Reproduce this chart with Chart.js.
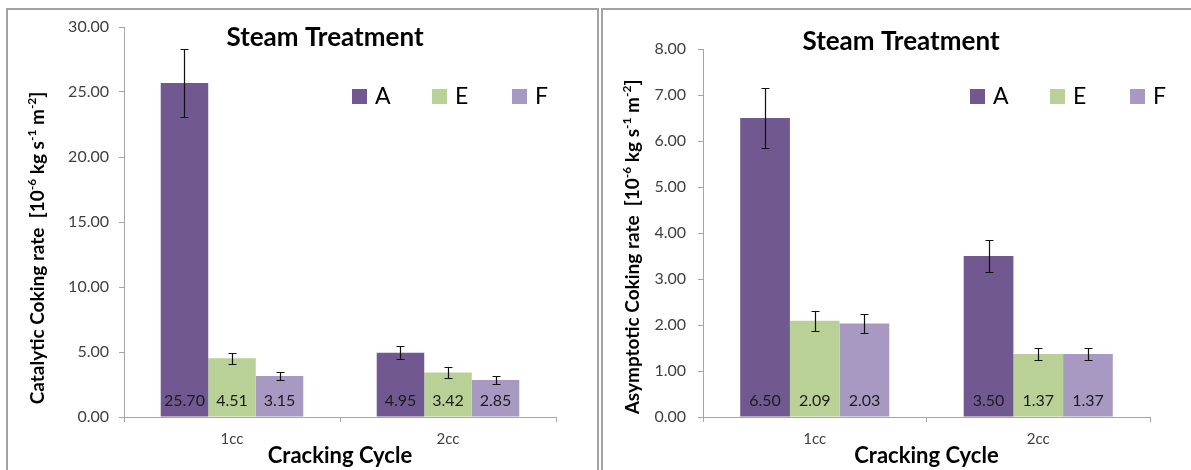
<!DOCTYPE html>
<html>
<head>
<meta charset="utf-8">
<title>Steam Treatment – coking rates</title>
<script src="https://cdn.jsdelivr.net/npm/chart.js@4.4.1/dist/chart.umd.min.js"></script>
<style>
  html, body { margin: 0; padding: 0; background: #fff; }
  body { width: 1191px; height: 470px; position: relative; overflow: hidden; }
  .panel { position: absolute; top: 0; height: 470px; }
  .frame { position: absolute; border: 2px solid #a2a2a2; pointer-events: none; box-sizing: border-box; }
</style>
</head>
<body>
<div class="panel" style="left:0;width:600px;"><canvas id="catalytic" width="600" height="470"></canvas></div>
<div class="panel" style="left:600px;width:591px;"><canvas id="asymptotic" width="591" height="470"></canvas></div>
<div class="frame" style="left:6px;top:8px;width:593px;height:500px;"></div>
<div class="frame" style="left:601px;top:8px;width:600px;height:500px;"></div>
<script>
// ---- data ----
const categories = ['1cc', '2cc'];
const seriesNames = ['A', 'E', 'F'];
const seriesColors = ['#715890', '#b9d196', '#a899c2'];

// Catalytic coking rate [10^-6 kg s^-1 m^-2]
const catalyticA = [25.70, 4.95];
const catalyticE = [4.51, 3.42];
const catalyticF = [3.15, 2.85];
const catalyticErrA = [2.6, 0.5];
const catalyticErrE = [0.45, 0.4];
const catalyticErrF = [0.3, 0.3];
const catalyticTicks = [0, 5, 10, 15, 20, 25, 30];

// Asymptotic coking rate [10^-6 kg s^-1 m^-2]
const asymptoticA = [6.50, 3.50];
const asymptoticE = [2.09, 1.37];
const asymptoticF = [2.03, 1.37];
const asymptoticErrA = [0.65, 0.35];
const asymptoticErrE = [0.21, 0.13];
const asymptoticErrF = [0.20, 0.13];
const asymptoticTicks = [0, 1, 2, 3, 4, 5, 6, 7, 8];

Chart.defaults.font.family = 'Lato, "Open Sans", sans-serif';
Chart.defaults.color = '#404040';

// Error bars: drawn from each bar's x and the value ± error on the y scale
const errorBarPlugin = {
  id: 'errorBars',
  afterDatasetsDraw(chart) {
    const ctx = chart.ctx;
    const y = chart.scales.y;
    ctx.save();
    ctx.strokeStyle = '#111';
    ctx.lineWidth = 1.2;
    chart.data.datasets.forEach((ds, i) => {
      const meta = chart.getDatasetMeta(i);
      meta.data.forEach((bar, j) => {
        const v = ds.data[j], e = ds.errors[j];
        const yt = Math.round(y.getPixelForValue(v + e)) + 0.5;
        const yb = Math.round(y.getPixelForValue(v - e)) + 0.5;
        const x = Math.round(bar.x) + 0.5;
        ctx.beginPath();
        ctx.moveTo(x, yt); ctx.lineTo(x, yb);
        ctx.moveTo(x - 4, yt); ctx.lineTo(x + 4, yt);
        ctx.moveTo(x - 4, yb); ctx.lineTo(x + 4, yb);
        ctx.stroke();
      });
    });
    ctx.restore();
  }
};

// Value labels at the foot of each bar
const valueLabelPlugin = {
  id: 'valueLabels',
  afterDatasetsDraw(chart) {
    const ctx = chart.ctx;
    const base = chart.scales.y.getPixelForValue(0);
    ctx.save();
    ctx.font = '16px Lato, "Open Sans", sans-serif';
    ctx.fillStyle = '#1c1c1c';
    ctx.textAlign = 'center';
    ctx.textBaseline = 'middle';
    chart.data.datasets.forEach((ds, i) => {
      chart.getDatasetMeta(i).data.forEach((bar, j) => {
        ctx.fillText(ds.data[j].toFixed(2), bar.x, base - 16);
      });
    });
    ctx.restore();
  }
};

// Title, legend and the rotated y title with superscripts
const decorPlugin = {
  id: 'decor',
  afterDraw(chart, args, opts) {
    const ctx = chart.ctx;
    ctx.save();
    // title
    ctx.font = 'bold 26px Lato, "Open Sans", sans-serif';
    ctx.fillStyle = '#000';
    ctx.textAlign = 'center';
    ctx.textBaseline = 'middle';
    ctx.fillText(opts.title, opts.titleX, opts.titleY);

    // legend
    ctx.font = '23px Lato, "Open Sans", sans-serif';
    ctx.textAlign = 'left';
    chart.data.datasets.forEach((ds, i) => {
      const lx = opts.legendX + i * 80;
      ctx.fillStyle = ds.backgroundColor;
      ctx.fillRect(lx, opts.legendY - 7, 15, 15);
      ctx.fillStyle = '#000';
      ctx.fillText(ds.label, lx + 23, opts.legendY + 1);
    });

    // y title (rotated), with superscript runs
    const size = opts.yTitleSize;
    const normal = `bold ${size}px Lato, "Open Sans", sans-serif`;
    const small = `bold ${Math.round(size * 0.62)}px Lato, "Open Sans", sans-serif`;
    let total = 0;
    opts.yTitle.forEach(seg => { ctx.font = seg.sup ? small : normal; total += ctx.measureText(seg.t).width; });
    ctx.translate(opts.yTitleX, opts.yTitleY);
    ctx.rotate(-Math.PI / 2);
    ctx.fillStyle = '#000';
    ctx.textBaseline = 'alphabetic';
    let x = -total / 2;
    opts.yTitle.forEach(seg => {
      ctx.font = seg.sup ? small : normal;
      ctx.fillText(seg.t, x, seg.sup ? size * 0.35 - size * 0.42 : size * 0.35);
      x += ctx.measureText(seg.t).width;
    });
    ctx.restore();
  }
};

function unitSegments(name) {
  return [
    { t: name + '  [10' }, { t: '-6', sup: true },
    { t: ' kg s' }, { t: '-1', sup: true },
    { t: ' m' }, { t: '-2', sup: true }, { t: ']' }
  ];
}

function makeDatasets(values, errors, catPct) {
  return seriesNames.map((name, i) => ({
    label: name,
    data: values[i],
    errors: errors[i],
    backgroundColor: seriesColors[i],
    borderWidth: 0,
    categoryPercentage: catPct,
    barPercentage: 1.0
  }));
}

function makeChart(id, cfg) {
  const axisColor = '#a6a6a6';
  return new Chart(document.getElementById(id), {
    type: 'bar',
    data: { labels: categories, datasets: makeDatasets(cfg.values, cfg.errors, cfg.catPct) },
    options: {
      responsive: false,
      animation: false,
      layout: { padding: { top: cfg.padTop, right: cfg.padRight, bottom: 0, left: 0 } },
      plugins: {
        legend: { display: false },
        tooltip: { enabled: false },
        decor: cfg.decor
      },
      scales: {
        x: {
          grid: { drawOnChartArea: false, offset: true, tickLength: 5, color: axisColor },
          border: { color: axisColor },
          ticks: { font: { size: 15 }, color: '#404040', padding: 8 },
          title: {
            display: true, text: 'Cracking Cycle',
            font: { size: 22, weight: 'bold' }, color: '#000',
            padding: { top: 0, bottom: 1 }
          },
          afterFit(scale) { scale.height = 53; }
        },
        y: {
          min: cfg.ticks[0],
          max: cfg.ticks[cfg.ticks.length - 1],
          afterBuildTicks(scale) { scale.ticks = cfg.ticks.map(v => ({ value: v })); },
          grid: { drawOnChartArea: false, tickLength: 5, color: axisColor },
          border: { color: axisColor },
          ticks: {
            font: { size: 16 }, color: '#404040', padding: cfg.tickPad,
            callback: v => Number(v).toFixed(2)
          },
          afterFit(scale) { scale.width = cfg.yWidth; }
        }
      }
    },
    plugins: [errorBarPlugin, valueLabelPlugin, decorPlugin]
  });
}

makeChart('catalytic', {
  values: [catalyticA, catalyticE, catalyticF],
  errors: [catalyticErrA, catalyticErrE, catalyticErrF],
  ticks: catalyticTicks,
  catPct: 0.66,
  padTop: 27, padRight: 44, yWidth: 124, tickPad: 10,
  decor: {
    title: 'Steam Treatment', titleX: 325, titleY: 38,
    legendX: 352, legendY: 96,
    yTitle: unitSegments('Catalytic Coking rate'),
    yTitleX: 37, yTitleY: 248, yTitleSize: 19
  }
});

makeChart('asymptotic', {
  values: [asymptoticA, asymptoticE, asymptoticF],
  errors: [asymptoticErrA, asymptoticErrE, asymptoticErrF],
  ticks: asymptoticTicks,
  catPct: 0.667,
  padTop: 49, padRight: 41, yWidth: 103, tickPad: 12,
  decor: {
    title: 'Steam Treatment', titleX: 301, titleY: 42,
    legendX: 370, legendY: 96,
    yTitle: unitSegments('Asymptotic Coking rate'),
    yTitleX: 32, yTitleY: 247, yTitleSize: 19
  }
});
</script>
</body>
</html>
